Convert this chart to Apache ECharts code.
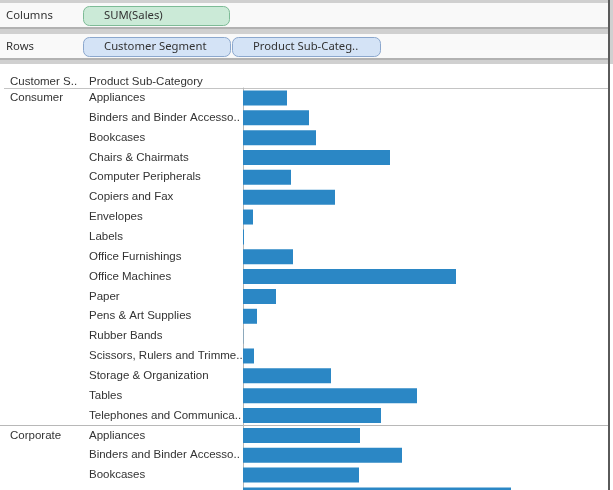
<!DOCTYPE html>
<html><head><meta charset="utf-8">
<script src="https://cdn.jsdelivr.net/npm/echarts@6/dist/echarts.min.js"></script>
<style>html,body{margin:0;padding:0;background:#fff;overflow:hidden}#c{width:613px;height:490px}</style>
</head><body><div id="c"></div><script>
// ---- data (units: Sales, relative) ----
const segments = ['Consumer', 'Corporate'];
const subCategories = ['Appliances', 'Binders and Binder Accesso..', 'Bookcases', 'Chairs & Chairmats',
  'Computer Peripherals', 'Copiers and Fax', 'Envelopes', 'Labels', 'Office Furnishings',
  'Office Machines', 'Paper', 'Pens & Art Supplies', 'Rubber Bands', 'Scissors, Rulers and Trimme..',
  'Storage & Organization', 'Tables', 'Telephones and Communica..'];
const consumerSales = [44, 66, 73, 147, 48, 92, 10, 1, 50, 213, 33, 14, 0.3, 11, 88, 174, 138];
const corporateSales = [117, 159, 116, 268];
const shelfColumns = ['SUM(Sales)'];
const shelfRows = ['Customer Segment', 'Product Sub-Categ..'];
const headerLabels = ['Customer S..', 'Product Sub-Category'];

// ---- build rows ----
const keys = [], values = [];
consumerSales.forEach((v, i) => { keys.push(segments[0] + '|' + subCategories[i]); values.push(v); });
corporateSales.forEach((v, i) => { keys.push(segments[1] + '|' + subCategories[i]); values.push(v); });

const FONT = 'Liberation Sans';
const FS = 11.5;
const chart = echarts.init(document.getElementById('c'), null, {renderer: 'canvas'});
chart.setOption({
  animation: false,
  backgroundColor: '#ffffff',
  grid: {left: 243, right: 5, top: 88, height: keys.length * 19.85, containLabel: false, outerBoundsMode: 'none'},
  xAxis: {type: 'value', min: 0, max: 365, show: false},
  yAxis: [{
    type: 'category', inverse: true, data: keys,
    axisLine: {show: true, lineStyle: {color: '#b8b8b8', width: 1}},
    axisTick: {show: false},
    splitLine: {show: false},
    axisLabel: {interval: 0, align: 'left', margin: 154, color: '#333333', fontSize: FS, fontFamily: FONT,
      formatter: k => k.split('|')[1]}
  }, {
    type: 'category', inverse: true, data: keys, position: 'left',
    axisLine: {show: false}, axisTick: {show: false}, splitLine: {show: false},
    axisLabel: {interval: 0, align: 'left', margin: 233, color: '#333333', fontSize: FS, fontFamily: FONT,
      formatter: (k, i) => {
        const seg = k.split('|')[0];
        return (i === 0 || keys[i - 1].split('|')[0] !== seg) ? seg : '';
      }}
  }],
  series: [{
    type: 'bar', yAxisIndex: 0, data: values, barWidth: 15, silent: true,
    itemStyle: {color: '#2b87c5'}
  }]
});

// ---- decoration computed from the axis scale ----
const c0 = chart.convertToPixel({yAxisIndex: 0}, 0);
const c1 = chart.convertToPixel({yAxisIndex: 0}, 1);
const pitch = c1 - c0;
const headerY = Math.round(c0 - pitch / 2) + 0.5;
const sepIdx = consumerSales.length;
const sepY = Math.round((chart.convertToPixel({yAxisIndex: 0}, sepIdx - 1) + chart.convertToPixel({yAxisIndex: 0}, sepIdx)) / 2) + 0.5;

const UI = 'Noto Sans';
const UIF = '11.3px "' + UI + '"';
function pill(x, y, w, text, fill, stroke) {
  return [
    {type: 'rect', shape: {x: x + 0.5, y: y + 0.5, width: w, height: 19, r: 6}, style: {fill: fill, stroke: stroke, lineWidth: 1}},
    {type: 'text', x: x + 21, y: y + 10, style: {text: text, fill: '#333333', font: UIF, verticalAlign: 'middle'}}
  ];
}
const g = [
  {type: 'rect', shape: {x: 0, y: 0, width: 613, height: 64}, style: {fill: '#d0d0d0'}},
  {type: 'rect', shape: {x: 0, y: 3, width: 608, height: 24}, style: {fill: '#f9f9f9'}},
  {type: 'rect', shape: {x: 0, y: 27, width: 608, height: 2}, style: {fill: '#b2b2b2'}},
  {type: 'rect', shape: {x: 0, y: 34, width: 608, height: 24}, style: {fill: '#f9f9f9'}},
  {type: 'rect', shape: {x: 0, y: 58, width: 608, height: 2}, style: {fill: '#b2b2b2'}},
  {type: 'text', x: 6, y: 16, style: {text: 'Columns', fill: '#333333', font: UIF, verticalAlign: 'middle'}},
  {type: 'text', x: 6, y: 47, style: {text: 'Rows', fill: '#333333', font: UIF, verticalAlign: 'middle'}},
  ...pill(83, 6, 146, shelfColumns[0], '#cbead7', '#7dbb96'),
  ...pill(83, 37, 147, shelfRows[0], '#d4e3f6', '#8ba7cd'),
  ...pill(232, 37, 148, shelfRows[1], '#d4e3f6', '#8ba7cd'),
  {type: 'line', shape: {x1: 4, y1: headerY, x2: 608, y2: headerY}, style: {stroke: '#c4c4c4', lineWidth: 1}},
  {type: 'line', shape: {x1: 0, y1: sepY, x2: 608, y2: sepY}, style: {stroke: '#b8b8b8', lineWidth: 1}},
  {type: 'text', x: 10, y: headerY - 7, style: {text: headerLabels[0], fill: '#333333', font: FS + 'px "' + FONT + '"', verticalAlign: 'middle'}},
  {type: 'text', x: 89, y: headerY - 7, style: {text: headerLabels[1], fill: '#333333', font: FS + 'px "' + FONT + '"', verticalAlign: 'middle'}},
  {type: 'rect', shape: {x: 608, y: 0, width: 2, height: 490}, style: {fill: '#5a5a5a'}}
];
chart.setOption({graphic: {elements: g}});
</script></body></html>
